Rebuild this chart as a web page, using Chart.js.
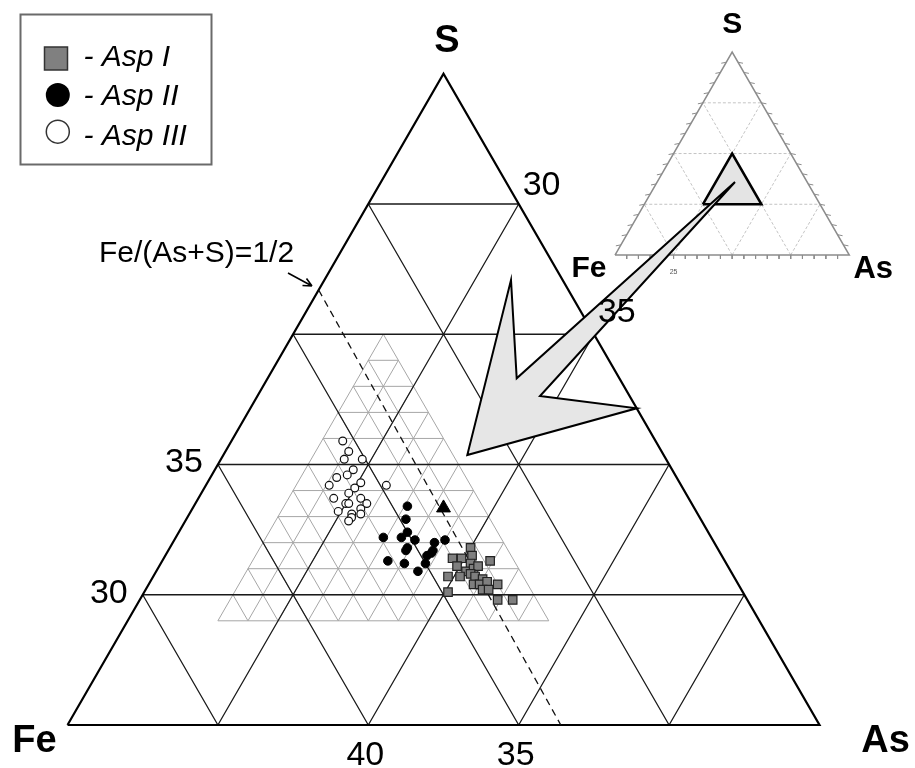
<!DOCTYPE html>
<html>
<head>
<meta charset="utf-8">
<script src="https://cdn.jsdelivr.net/npm/chart.js@4.4.1/dist/chart.umd.min.js"></script>
<style>
html, body { margin: 0; padding: 0; background: #fff; }
#wrap { position: relative; width: 915px; height: 768px; }
</style>
</head>
<body>
<div id="wrap"><canvas id="tern"></canvas></div>
<script>
// analyses, at.% [Fe, As, S]
var aspI = [
  [33.2, 35.0, 31.8], [34.0, 34.6, 31.4], [33.7, 34.9, 31.4], [33.3, 35.2, 31.5],
  [32.8, 35.9, 31.3], [34.0, 34.9, 31.1], [33.5, 35.3, 31.2], [33.8, 35.3, 30.9],
  [33.5, 35.5, 31.0], [33.3, 35.6, 31.1], [34.5, 34.8, 30.7], [34.1, 35.2, 30.7],
  [33.7, 35.5, 30.8], [33.6, 35.7, 30.7], [33.4, 36.0, 30.6], [33.8, 35.8, 30.4],
  [33.6, 36.0, 30.4], [33.3, 36.2, 30.5], [33.0, 36.6, 30.4], [34.8, 35.1, 30.1],
  [33.6, 36.2, 30.2], [33.4, 36.4, 30.2], [33.3, 36.9, 29.8], [32.8, 37.4, 29.8]
];
var aspII = [
  [34.5, 32.1, 33.4], [34.8, 32.3, 32.9], [35.0, 32.6, 32.4], [35.9, 31.9, 32.2],
  [35.3, 32.5, 32.2], [34.9, 33.0, 32.1], [34.3, 33.7, 32.0], [33.9, 34.0, 32.1],
  [35.3, 32.9, 31.8], [34.5, 33.8, 31.7], [35.4, 32.9, 31.7], [34.6, 33.8, 31.6],
  [34.8, 33.7, 31.5], [36.2, 32.5, 31.3], [35.7, 33.1, 31.2], [35.0, 33.8, 31.2],
  [35.4, 33.7, 30.9]
];
var aspIII = [
  [35.4, 28.7, 35.9], [35.4, 29.1, 35.5], [35.7, 29.1, 35.2], [35.1, 29.7, 35.2],
  [35.6, 29.6, 34.8], [36.3, 29.2, 34.5], [35.9, 29.5, 34.6], [35.6, 30.1, 34.3],
  [36.7, 29.1, 34.2], [34.8, 31.0, 34.2], [35.9, 30.0, 34.1], [36.2, 29.9, 33.9],
  [35.9, 30.4, 33.7], [36.8, 29.5, 33.7], [36.5, 30.0, 33.5], [36.4, 30.1, 33.5],
  [35.8, 30.7, 33.5], [36.1, 30.6, 33.3], [36.9, 29.9, 33.2], [36.5, 30.4, 33.1],
  [36.2, 30.7, 33.1], [36.5, 30.4, 32.9], [36.7, 30.4, 32.8]
];
var stoich = [[33.33, 33.33, 33.33]];
var seriesNames = ['Asp I', 'Asp II', 'Asp III'];

// main diagram: every component 25..50, black grid every 5
var mainMin = 25, mainSpan = 25;
var mainGridSteps = [30, 35, 40, 45];
var sTickLabels = [30, 35];
var asTickLabels = [30, 35];
var feTickLabels = [40, 35];
// grey 1 at.% grid
var fineMin = [32, 28, 29];
var fineSpan = 11;
// Fe/(As+S)=1/2
var ratioLine = [[33.3, 25.0, 41.7], [33.6, 41.4, 25.0]];
// inset: whole diagram, grid every 25, ticks every 5
var insetGridSteps = [25, 50, 75];
var insetTickStep = 5;
var insetTickLabels = [25];

// where the two triangles sit on the canvas
var MAIN = {x0: 67.5, y0: 725, side: 752};
var INSET = {x0: 615, y0: 255, side: 234.3};
var H = Math.sqrt(3) / 2;

function tern(fr, min, span, c) {
  var t = c[0] + c[1] + c[2];
  var a = (c[1] / t * 100 - min) / span, b = (c[2] / t * 100 - min) / span;
  return {x: fr.x0 + (a + b / 2) * fr.side, y: fr.y0 - b * fr.side * H};
}
function mP(c) { return tern(MAIN, mainMin, mainSpan, c); }
function iP(c) { return tern(INSET, 0, 100, c); }

function segData(segs) {
  var out = [];
  segs.forEach(function(s, i) {
    if (i) out.push({x: null, y: null});
    s.forEach(function(p) { out.push({x: p.x, y: p.y}); });
  });
  return out;
}

// lines of constant S, As and Fe inside the region above the lower limits lo
function gridSegs(P, lo, vals) {
  var segs = [];
  vals.forEach(function(v) {
    segs.push([P([100 - lo[1] - v, lo[1], v]), P([lo[0], 100 - lo[0] - v, v])]);   // S const
    segs.push([P([100 - lo[2] - v, v, lo[2]]), P([lo[0], v, 100 - lo[0] - v])]);   // As const
    segs.push([P([v, 100 - lo[2] - v, lo[2]]), P([v, lo[1], 100 - lo[1] - v])]);   // Fe const
  });
  return segs;
}
function triangle(P, lo, span) {
  return [
    P([lo[0] + span, lo[1], lo[2]]), P([lo[0], lo[1] + span, lo[2]]),
    P([lo[0], lo[1], lo[2] + span]), P([lo[0] + span, lo[1], lo[2]])
  ];
}

var mainLo = [mainMin, mainMin, mainMin];
var mainGrid = gridSegs(mP, mainLo, mainGridSteps);

var fineGrid = [];
for (var k = 0; k < fineSpan; k++) {
  var s = fineMin[2] + k, a = fineMin[1] + k, f = fineMin[0] + k;
  fineGrid.push([mP([100 - fineMin[1] - s, fineMin[1], s]), mP([fineMin[0], 100 - fineMin[0] - s, s])]);
  fineGrid.push([mP([100 - fineMin[2] - a, a, fineMin[2]]), mP([fineMin[0], a, 100 - fineMin[0] - a])]);
  fineGrid.push([mP([f, 100 - fineMin[2] - f, fineMin[2]]), mP([f, fineMin[1], 100 - fineMin[1] - f])]);
}

var insetGrid = gridSegs(iP, [0, 0, 0], insetGridSteps);
var insetTicks = [];
for (var v = insetTickStep; v < 100; v += insetTickStep) {
  var b = iP([100 - v, v, 0]); insetTicks.push([b, {x: b.x, y: b.y + 4}]);
  var l = iP([100 - v, 0, v]); insetTicks.push([l, {x: l.x - 5, y: l.y + 1}]);
  var r = iP([0, 100 - v, v]); insetTicks.push([r, {x: r.x + 5, y: r.y + 1}]);
}

// big grey arrow from the inset into the main diagram (canvas units)
var arrowShape = [
  {x: 735, y: 182}, {x: 516.7, y: 378.3}, {x: 511, y: 280}, {x: 467.3, y: 455},
  {x: 636.7, y: 408.3}, {x: 540, y: 396}, {x: 735, y: 182}
];
var noteArrow = [
  [{x: 288, y: 273}, {x: 312, y: 286}],
  [{x: 312, y: 286}, {x: 302.5, y: 285.5}],
  [{x: 312, y: 286}, {x: 306.5, y: 278.5}]
];

function lineSet(data, color, width, order, extra) {
  var d = {
    data: data, borderColor: color, borderWidth: width, showLine: true,
    pointRadius: 0, pointHoverRadius: 0, fill: false, order: order, tension: 0,
    borderJoinStyle: 'miter'
  };
  for (var key in extra) d[key] = extra[key];
  return d;
}
function pts(arr) { return arr.map(mP); }

var labelsPlugin = {
  id: 'ternLabels',
  afterDraw: function(chart) {
    var ctx = chart.ctx, sx = chart.scales.x, sy = chart.scales.y;
    function px(p) { return {x: sx.getPixelForValue(p.x), y: sy.getPixelForValue(p.y)}; }
    function txt(s, p, dx, dy, font, align, color) {
      var q = px(p);
      ctx.font = font; ctx.textAlign = align || 'center';
      ctx.textBaseline = 'alphabetic'; ctx.fillStyle = color || '#000';
      ctx.fillText(s, q.x + dx, q.y + dy);
    }
    ctx.save();
    var FF = '"Liberation Sans", Arial, sans-serif';
    var big = 'bold 38px ' + FF;
    txt('S', mP([25, 25, 50]), 3.5, -22, big);
    txt('Fe', mP([50, 25, 25]), -33, 27, big);
    txt('As', mP([25, 50, 25]), 66, 27, big);
    var tk = '34px ' + FF;
    sTickLabels.forEach(function(v) { txt(String(v), mP([75 - v, 25, v]), -15, 8, tk, 'right'); });
    asTickLabels.forEach(function(v, i) { txt(String(v), mP([25, v, 75 - v]), 4, i ? -12 : -9, tk, 'left'); });
    feTickLabels.forEach(function(v) { txt(String(v), mP([v, 75 - v, 25]), -3, 40, tk, 'center'); });

    var ins = 'bold 30px ' + FF;
    txt('S', iP([0, 0, 100]), 0, -19, ins);
    txt('Fe', iP([100, 0, 0]), -26, 22, ins);
    txt('As', iP([0, 100, 0]), 24, 23, 'bold 31px ' + FF);
    insetTickLabels.forEach(function(v) { txt(String(v), iP([100 - v, v, 0]), 0, 19, '7px ' + FF, 'center', '#555'); });

    txt('Fe/(As+S)=1/2', {x: 99, y: 262}, 0, 0, '30px ' + FF, 'left');

    // legend box
    var o = px({x: 20.5, y: 14.5});
    ctx.lineWidth = 2; ctx.strokeStyle = '#6a6a6a';
    ctx.strokeRect(o.x, o.y, 191, 150);
    ctx.lineWidth = 1.5; ctx.strokeStyle = '#333';
    ctx.fillStyle = '#808080';
    ctx.fillRect(o.x + 24, o.y + 32.5, 23, 23); ctx.strokeRect(o.x + 24, o.y + 32.5, 23, 23);
    ctx.fillStyle = '#000';
    ctx.beginPath(); ctx.arc(o.x + 37.3, o.y + 80.5, 12, 0, 2 * Math.PI); ctx.fill();
    ctx.fillStyle = '#fff';
    ctx.beginPath(); ctx.arc(o.x + 37.3, o.y + 117.2, 11.5, 0, 2 * Math.PI); ctx.fill(); ctx.stroke();
    ctx.fillStyle = '#000'; ctx.textAlign = 'left';
    ctx.font = 'italic 30px ' + FF;
    var ys = [51.5, 90.5, 130.5];
    seriesNames.forEach(function(n, i) { ctx.fillText('- ' + n, o.x + 63, o.y + ys[i]); });
    ctx.restore();
  }
};

new Chart(document.getElementById('tern'), {
  type: 'line',
  data: {
    datasets: [
      {label: seriesNames[0], data: pts(aspI), showLine: false, order: 0,
        pointStyle: 'rect', pointRadius: 6, backgroundColor: '#7f7f7f', borderColor: '#222', borderWidth: 1.2},
      {label: seriesNames[1], data: pts(aspII), showLine: false, order: 0,
        pointStyle: 'circle', pointRadius: 4.3, backgroundColor: '#000', borderColor: '#000', borderWidth: 1},
      {label: seriesNames[2], data: pts(aspIII), showLine: false, order: 0,
        pointStyle: 'circle', pointRadius: 3.9, backgroundColor: '#fff', borderColor: '#111', borderWidth: 1.2},
      {label: 'FeAsS', data: pts(stoich), showLine: false, order: 0,
        pointStyle: 'triangle', pointRadius: 8, backgroundColor: '#000', borderColor: '#000', borderWidth: 1},
      lineSet(arrowShape, '#000', 2, 1, {fill: 'shape', backgroundColor: '#e6e6e6'}),
      lineSet(segData(noteArrow), '#000', 1.6, 2, {}),
      lineSet(segData([ratioLine.map(mP)]), '#111', 1.3, 2, {borderDash: [7, 5]}),
      lineSet(triangle(iP, [25, 25, 25], 25), '#000', 2.5, 2.5, {fill: 'shape', backgroundColor: '#e4e4e4'}),
      lineSet(triangle(mP, mainLo, mainSpan), '#000', 2.2, 3, {}),
      lineSet(segData(mainGrid), '#1a1a1a', 1.3, 4, {}),
      lineSet(segData(fineGrid), '#a6a6a6', 1, 5, {}),
      lineSet(triangle(iP, [0, 0, 0], 100), '#8c8c8c', 1.5, 6, {}),
      lineSet(segData(insetTicks), '#8c8c8c', 1, 6, {}),
      lineSet(segData(insetGrid), '#c4c4c4', 1, 7, {borderDash: [3, 2]})
    ]
  },
  options: {
    responsive: true,
    maintainAspectRatio: false,
    animation: false,
    events: [],
    layout: {padding: 0, autoPadding: false},
    scales: {
      x: {type: 'linear', min: 0, max: 915, display: false},
      y: {type: 'linear', min: 0, max: 768, reverse: true, display: false}
    },
    plugins: {legend: {display: false}, tooltip: {enabled: false}}
  },
  plugins: [labelsPlugin]
});
</script>
</body>
</html>
